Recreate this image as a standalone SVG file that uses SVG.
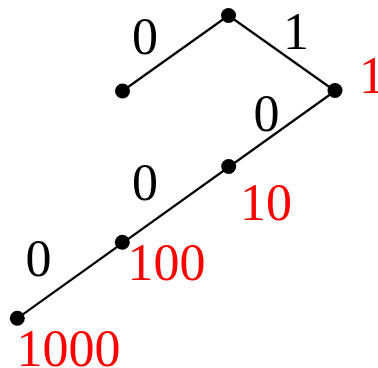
<svg xmlns="http://www.w3.org/2000/svg" width="378" height="368" viewBox="0 0 378 368">
<style>
.e{stroke:#000;stroke-width:2.2;fill:none}
.n{fill:#000}
text{font-family:"Liberation Serif","Times New Roman",serif;font-size:52px}
.b{fill:#000}
.r{fill:#ff0000}
</style>
<rect width="378" height="368" fill="#fff"/>
<g id="connectors">
<line class="e" x1="228.5" y1="15.5" x2="122.5" y2="91"/>
<line class="e" x1="228.5" y1="15.5" x2="335" y2="91"/>
<line class="e" x1="335" y1="91" x2="17.3" y2="318.3"/>
<text class="b" x="132" y="54">0</text>
<text class="b" x="283" y="49">1</text>
<text class="b" x="253.5" y="131">0</text>
<text class="b" x="132" y="200">0</text>
<text class="b" x="25.5" y="276">0</text>
</g>
<g id="root"><circle class="n" cx="228.5" cy="15.5" r="7.5"/></g>
<g id="n0"><circle class="n" cx="122.5" cy="91" r="7.5"/></g>
<g id="n1"><circle class="n" cx="335" cy="90.5" r="7.5"/><text class="r" x="359" y="93">1</text></g>
<g id="n10"><circle class="n" cx="228.7" cy="166.5" r="7.5"/><text class="r" x="240" y="220">10</text></g>
<g id="n100"><circle class="n" cx="122.3" cy="242.3" r="7.5"/><text class="r" x="127.5" y="280">100</text></g>
<g id="n1000"><circle class="n" cx="17.3" cy="318.3" r="7.5"/><text class="r" x="16.5" y="365.5">1000</text></g>
</svg>
